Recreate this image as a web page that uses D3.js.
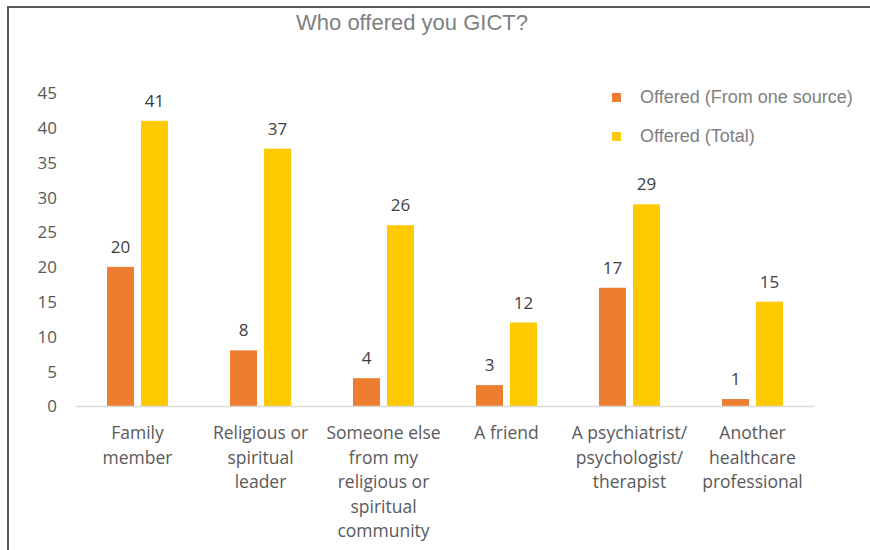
<!DOCTYPE html>
<html>
<head>
<meta charset="utf-8">
<script src="https://cdn.jsdelivr.net/npm/d3@7"></script>
<style>
  html, body { margin: 0; padding: 0; background: #fff; }
  svg { display: block; }
</style>
</head>
<body>
<svg id="chart" width="870" height="550"></svg>
<script>
// Survey responses: who offered GICT
const categories = [
  ["Family", "member"],
  ["Religious or", "spiritual", "leader"],
  ["Someone else", "from my", "religious or", "spiritual", "community"],
  ["A friend"],
  ["A psychiatrist/", "psychologist/", "therapist"],
  ["Another", "healthcare", "professional"]
];
const seriesNames = ["Offered (From one source)", "Offered (Total)"];
const fromOneSource = [20, 8, 4, 3, 17, 1];
const offeredTotal = [41, 37, 26, 12, 29, 15];
const yTicks = [0, 5, 10, 15, 20, 25, 30, 35, 40, 45];
const colors = ["#ED7D31", "#FFCA00"];

const svg = d3.select("#chart");
const labelFont = "'Open Sans', 'Noto Sans', sans-serif";
const plot = { left: 76, right: 814, top: 93, bottom: 406 };

// Frame lines along the top and left edges
svg.append("line").attr("x1", 8).attr("x2", 870).attr("y1", 7).attr("y2", 7)
  .attr("stroke", "#5a5a5a").attr("stroke-width", 2);
svg.append("line").attr("x1", 8).attr("x2", 8).attr("y1", 6).attr("y2", 550)
  .attr("stroke", "#5a5a5a").attr("stroke-width", 2);

// Title
svg.append("text").attr("x", 412).attr("y", 30).attr("text-anchor", "middle")
  .attr("font-family", "'Liberation Sans', Arial, sans-serif").attr("font-size", 22)
  .attr("fill", "#808080").text("Who offered you GICT?");

const idx = d3.range(categories.length);
const x0 = d3.scaleBand().domain(idx).range([plot.left, plot.right]).paddingInner(0).paddingOuter(0);
const y = d3.scaleLinear().domain([0, 45]).range([plot.bottom, plot.top]);

const barW = 27, gap = 7;
const offsets = [-(gap / 2 + barW), gap / 2];

// Y axis tick labels (no axis line)
const yAxis = d3.axisLeft(y).tickValues(yTicks).tickSize(0).tickPadding(0);
const yg = svg.append("g").attr("transform", `translate(57,0)`).call(yAxis);
yg.select(".domain").remove();
yg.selectAll("text").attr("font-family", labelFont).attr("font-size", 17)
  .attr("fill", "#595959").attr("dy", "0.34em");

// Bars and value labels
const series = [fromOneSource, offeredTotal];
series.forEach((vals, s) => {
  const g = svg.append("g");
  g.selectAll("rect").data(vals).join("rect")
    .attr("x", (d, i) => x0(i) + x0.bandwidth() / 2 + offsets[s])
    .attr("width", barW)
    .attr("y", d => y(d))
    .attr("height", d => y(0) - y(d))
    .attr("fill", colors[s]);
  g.selectAll("text").data(vals).join("text")
    .attr("x", (d, i) => x0(i) + x0.bandwidth() / 2 + offsets[s] + barW / 2)
    .attr("y", d => y(d) - 14)
    .attr("text-anchor", "middle")
    .attr("font-family", labelFont).attr("font-size", 17)
    .attr("fill", "#404040").text(d => d);
});

// X axis baseline
svg.append("line").attr("x1", plot.left).attr("x2", plot.right)
  .attr("y1", plot.bottom + 0.5).attr("y2", plot.bottom + 0.5)
  .attr("stroke", "#d9d9d9").attr("stroke-width", 1.5);

// Category labels, wrapped over several lines
const catG = svg.append("g");
categories.forEach((lines, i) => {
  const t = catG.append("text")
    .attr("x", x0(i) + x0.bandwidth() / 2)
    .attr("y", 439)
    .attr("text-anchor", "middle")
    .attr("font-family", labelFont).attr("font-size", 17.5)
    .attr("fill", "#595959");
  lines.forEach((ln, j) => {
    t.append("tspan").attr("x", x0(i) + x0.bandwidth() / 2)
      .attr("y", 439 + j * 24.6).text(ln);
  });
});

// Legend
const legend = svg.append("g");
seriesNames.forEach((name, s) => {
  const ly = 97 + s * 39;
  legend.append("rect").attr("x", 612).attr("y", ly - 4).attr("width", 9).attr("height", 9)
    .attr("fill", colors[s]);
  legend.append("text").attr("x", 640).attr("y", ly + 6)
    .attr("font-family", "'Liberation Sans', Arial, sans-serif").attr("font-size", 18)
    .attr("fill", "#808080").text(name);
});
</script>
</body>
</html>
